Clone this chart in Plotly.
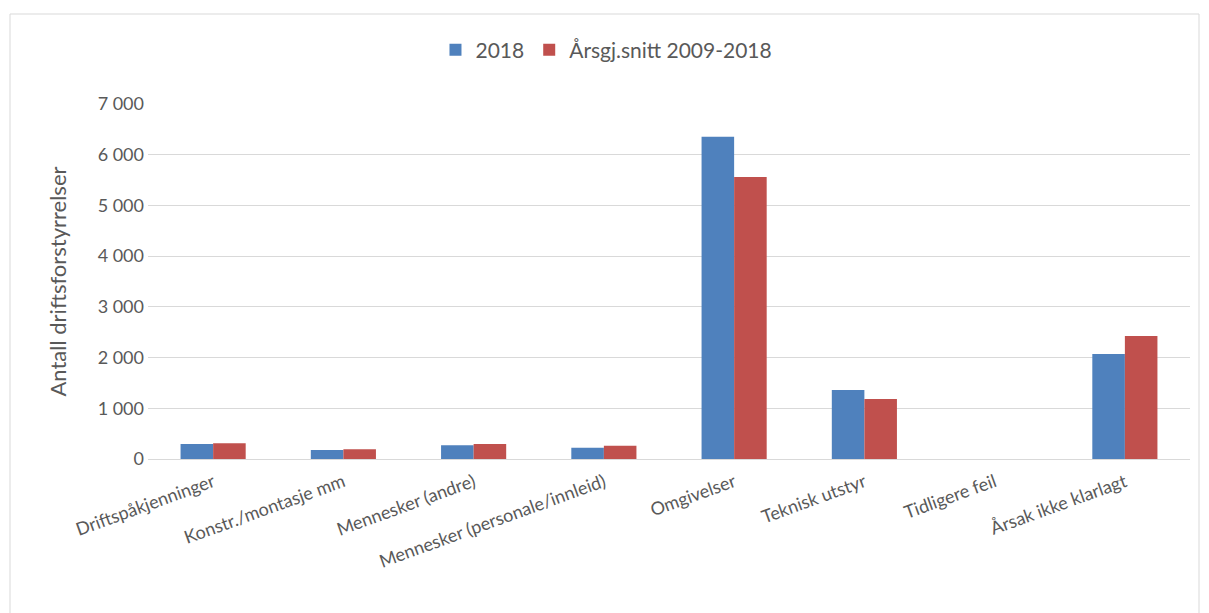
import plotly.graph_objects as go

categories = ["Driftspåkjenninger", "Konstr./montasje mm", "Mennesker (andre)",
              "Mennesker (personale/innleid)", "Omgivelser", "Teknisk utstyr",
              "Tidligere feil", "Årsak ikke klarlagt"]
values_2018 = [296, 178, 270, 223, 6355, 1360, 0, 2070]
values_avg = [310, 190, 296, 260, 5560, 1183, 0, 2425]
y_ticks = [0, 1000, 2000, 3000, 4000, 5000, 6000, 7000]
y_tick_labels = ["0", "1 000", "2 000", "3 000", "4 000", "5 000", "6 000", "7 000"]

font_family = "Lato, 'Open Sans', sans-serif"
txt = "#595959"

fig = go.Figure()
fig.add_trace(go.Bar(x=categories, y=values_2018, name="2018",
                     marker=dict(color="#4F81BD", line=dict(width=0))))
fig.add_trace(go.Bar(x=categories, y=values_avg, name="Årsgj.snitt 2009-2018",
                     marker=dict(color="#C0504D", line=dict(width=0))))

L, R, T, B = 148, 19, 104, 154
W, H = 1209, 613
pw, ph = W - L - R, H - T - B

fig.update_layout(
    width=W, height=H,
    paper_bgcolor="white", plot_bgcolor="white",
    margin=dict(l=L, r=R, t=T, b=B),
    barmode="group", bargap=0.5, bargroupgap=0,
    font=dict(family=font_family, color=txt, size=18),
    legend=dict(orientation="h", x=0.44, xanchor="center", y=(H - 50 - B) / ph, yanchor="middle",
                font=dict(size=21, color=txt), traceorder="normal"),
    xaxis=dict(tickangle=-20, showgrid=False, showline=True, linecolor="#D9D9D9",
               linewidth=1, ticks="", tickfont=dict(size=18, color=txt), ticklabelstandoff=5),
    yaxis=dict(range=[0, 7000], tickvals=y_ticks, ticktext=y_tick_labels,
               showgrid=True, gridcolor="#D9D9D9", gridwidth=1, zeroline=False,
               showline=False, ticks="", ticklen=0, ticklabelstandoff=3,
               tickfont=dict(size=18, color=txt),
               title=dict(text="Antall driftsforstyrrelser", font=dict(size=22, color=txt), standoff=24)),
    shapes=[dict(type="rect", xref="paper", yref="paper",
                 x0=(10 - L) / pw, x1=(1199 - L) / pw,
                 y0=(H - 625 - B) / ph, y1=(H - 14 - B) / ph,
                 line=dict(color="#D9D9D9", width=1), fillcolor="rgba(0,0,0,0)", layer="below")],
)
fig.write_html("out.html", config={"displayModeBar": False},
               post_script="document.body.style.margin='0';document.body.style.overflow='hidden';")
